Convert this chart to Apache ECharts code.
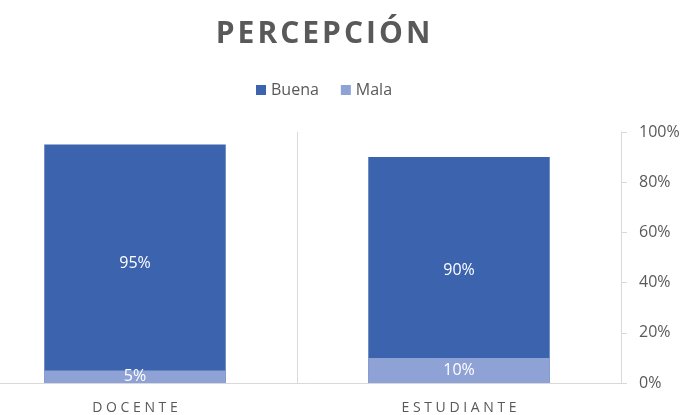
<!DOCTYPE html>
<html>
<head>
<meta charset="utf-8">
<title>Percepción</title>
<script src="https://cdn.jsdelivr.net/npm/echarts@6/dist/echarts.min.js"></script>
<style>
  html, body { margin: 0; padding: 0; background: #fff; }
  #chart { width: 687px; height: 415px; }
</style>
</head>
<body>
<div id="chart"></div>
<script>
const categories = ["DOCENTE", "ESTUDIANTE"];
const buena = [95, 90];
const mala = [5, 10];
const yTicks = [0, 20, 40, 60, 80, 100];

const gray = "#595959";
const spaced = (s, sp) => s.split("").join(sp);

const chart = echarts.init(document.getElementById("chart"));
const option = {
  backgroundColor: "#fff",
  color: ["#3c63ad", "#8fa2d6"],
  title: {
    text: spaced("PERCEPCIÓN", "\u200A"),
    left: 318,
    top: 14,
    textAlign: "center",
    textStyle: {
      fontFamily: "Open Sans",
      fontWeight: "bold",
      fontSize: 30,
      color: gray,
    },
  },
  legend: {
    data: ["Buena", "Mala"],
    left: 251,
    top: 77,
    icon: "rect",
    itemWidth: 10,
    itemHeight: 10,
    itemGap: 22,
    textStyle: {
      fontFamily: "Open Sans",
      fontSize: 16,
      color: gray,
    },
  },
  grid: {
    left: -27,
    right: 66,
    top: 132,
    bottom: 32,
    containLabel: false,
    outerBoundsMode: "none",
  },
  xAxis: {
    type: "category",
    data: categories,
    axisLine: { lineStyle: { color: "#d9d9d9", width: 1 } },
    axisTick: { show: false },
    splitLine: { show: true, lineStyle: { color: "#d9d9d9", width: 1 } },
    axisLabel: {
      margin: 18,
      fontFamily: "Open Sans",
      fontSize: 14,
      color: gray,
      formatter: (v) => spaced(v, " "),
    },
  },
  yAxis: {
    type: "value",
    position: "right",
    min: yTicks[0],
    max: yTicks[yTicks.length - 1],
    interval: 20,
    axisLine: { show: true, lineStyle: { color: "#d9d9d9", width: 1 } },
    axisTick: { show: true, length: 6, lineStyle: { color: "#d9d9d9" } },
    splitLine: { show: false },
    axisLabel: {
      margin: 18,
      fontFamily: "Open Sans",
      fontSize: 16,
      color: gray,
      formatter: "{value}%",
    },
  },
  series: [
    {
      name: "Buena",
      type: "bar",
      barWidth: "56%",
      barGap: "-100%",
      data: buena,
      itemStyle: { color: "#3c63ad" },
      label: {
        show: true,
        position: "inside",
        formatter: "{c}%",
        color: "#fff",
        fontFamily: "Open Sans",
        fontSize: 16,
      },
    },
    {
      name: "Mala",
      type: "bar",
      barWidth: "56%",
      barGap: "-100%",
      data: mala,
      itemStyle: { color: "#8fa2d6" },
      label: {
        show: true,
        position: "inside",
        formatter: "{c}%",
        color: "#fff",
        fontFamily: "Open Sans",
        fontSize: 16,
      },
    },
  ],
};
chart.setOption(option);
</script>
</body>
</html>
